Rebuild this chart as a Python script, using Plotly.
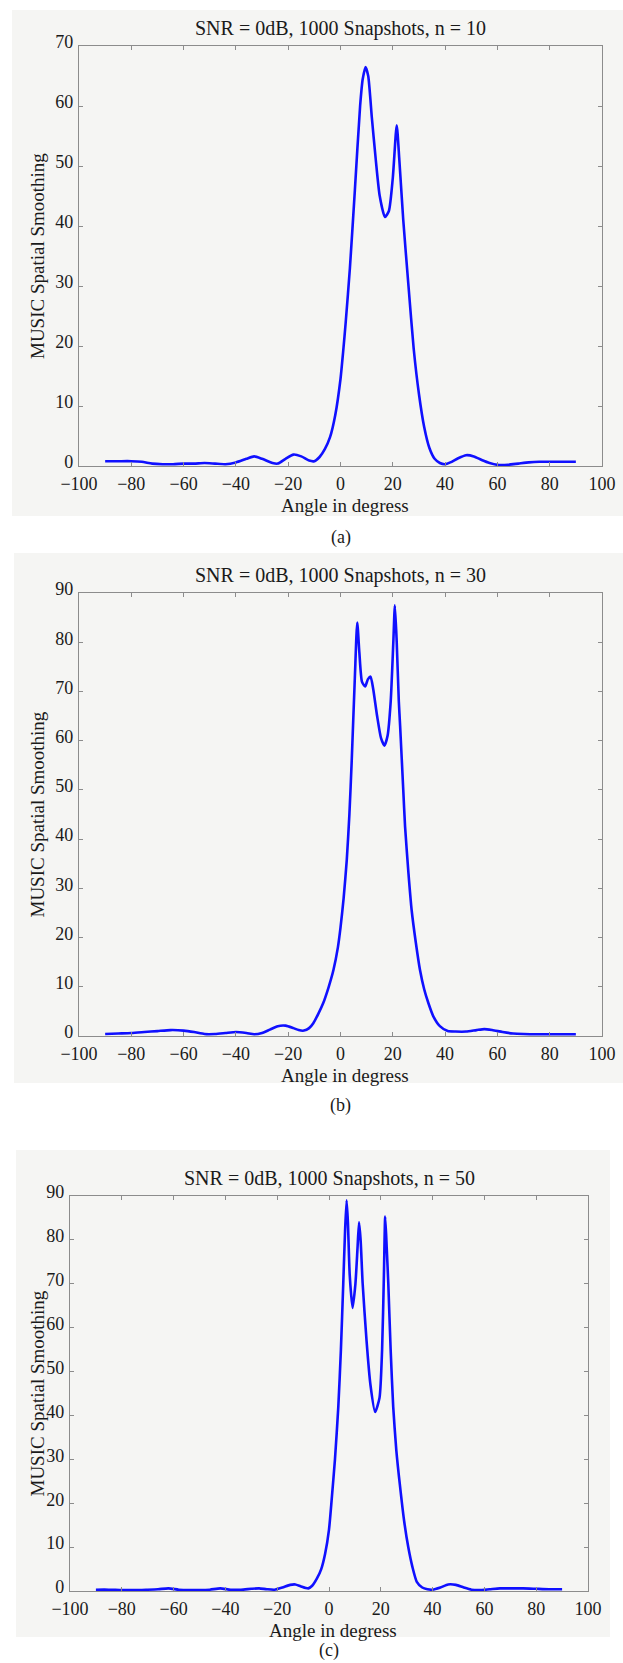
import plotly.graph_objects as go

# ---------------- data ----------------
titles = ["SNR = 0dB, 1000 Snapshots, n = 10",
          "SNR = 0dB, 1000 Snapshots, n = 30",
          "SNR = 0dB, 1000 Snapshots, n = 50"]
panel_labels = ["(a)", "(b)", "(c)"]
x_label = "Angle in degress"
y_label = "MUSIC Spatial Smoothing"
x_ticks = [-100, -80, -60, -40, -20, 0, 20, 40, 60, 80, 100]
y_ticks_a = [0, 10, 20, 30, 40, 50, 60, 70]
y_ticks_bc = [0, 10, 20, 30, 40, 50, 60, 70, 80, 90]

angle_a = [-90, -85, -80, -76, -72, -68, -64, -60, -56, -52, -48, -44, -40, -36, -33, -30,
           -26, -24, -21, -18, -15, -12, -10, -8, -6, -4, -2, 0, 1, 2, 3.6, 5.5, 7.5, 8.5,
           9.6, 10.6, 12, 13.5, 15, 17, 18.5, 20, 21.5, 22.5, 24, 26, 28, 30, 32, 34, 36,
           38, 40, 42, 45, 48, 51, 54, 57, 60, 64, 68, 72, 76, 80, 85, 90]
music_a = [0.8, 0.8, 0.8, 0.7, 0.4, 0.3, 0.3, 0.4, 0.4, 0.5, 0.4, 0.3, 0.6, 1.2, 1.6, 1.2,
           0.5, 0.4, 1.2, 1.9, 1.6, 0.9, 0.8, 1.5, 2.8, 4.8, 8.5, 14.5, 19, 24, 33, 46, 60, 64.5,
           66.5, 65, 58, 51, 45, 41.5, 42.5, 48, 56.8, 51, 41, 30, 19.5, 12, 6.5, 3, 1.2,
           0.5, 0.3, 0.6, 1.3, 1.8, 1.6, 1.0, 0.5, 0.2, 0.2, 0.4, 0.6, 0.7, 0.7, 0.7, 0.7]

angle_b = [-90, -85, -80, -75, -70, -65, -60, -56, -52, -48, -44, -40, -36, -33, -30, -27,
           -24, -21, -18, -16, -14, -12, -10.4, -8.5, -6.6, -4.5, -2.7, -1, 0, 1.2, 2.4, 3.4,
           4.3, 5.5, 6.4, 7.2, 8.2, 9.4, 10.5, 11.5, 12.5, 14, 15.5, 16.8, 18, 19.2, 20.2,
           20.8, 21.5, 22.3, 22.8, 24, 24.7, 26, 27.2, 28.8, 30.4, 32, 33.6, 35.5, 38, 41,
           44, 48, 52, 55, 58, 62, 66, 70, 75, 80, 85, 90]
music_b = [0.4, 0.5, 0.6, 0.8, 1.0, 1.2, 1.1, 0.8, 0.4, 0.4, 0.6, 0.8, 0.6, 0.35, 0.6, 1.3,
           2.0, 2.1, 1.6, 1.2, 1.1, 1.6, 2.6, 4.5, 6.7, 10, 13.4, 18, 22, 28, 35.8, 45,
           56, 73, 84, 78, 72, 71, 72.5, 73, 70.5, 65, 60.5, 59, 61, 68, 80,
           87.5, 80, 68, 63, 50, 42.5, 33, 25.6, 19, 13.4, 9.5, 6.7, 4, 2, 1.0,
           0.9, 0.9, 1.2, 1.4, 1.2, 0.8, 0.5, 0.4, 0.35, 0.35, 0.35, 0.35]

angle_c = [-90, -85, -80, -75, -70, -66, -62, -58, -54, -50, -46, -42, -38, -34, -30, -27,
           -24, -21, -18, -15, -13, -11, -9, -8, -6.5, -4.7, -3, -1.5, 0, 1, 2.3, 3.6, 4.6,
           5.5, 6.2, 6.8, 7.3, 8.0, 9.1, 10.2, 11, 11.6, 12.2, 13, 14.5, 16, 17.8, 19.5,
           20.5, 21.2, 21.7, 22.3, 22.9, 23.8, 24.8, 26, 27.4, 29, 30.6, 32.2, 33.9, 36,
           38, 40, 43, 46, 49, 52, 55, 58, 62, 66, 70, 75, 80, 85, 90]
music_c = [0.3, 0.3, 0.2, 0.2, 0.3, 0.4, 0.6, 0.3, 0.2, 0.2, 0.3, 0.6, 0.3, 0.3, 0.5, 0.6,
           0.4, 0.3, 0.8, 1.4, 1.5, 1.1, 0.7, 0.6, 1.2, 2.8, 5, 8.5, 14, 20.6, 30, 42, 55,
           70, 82, 89, 84, 72, 64.5, 70, 78, 84, 80, 70, 57, 47, 40.8, 44,
           55, 72, 85.3, 78, 70, 55, 41.9, 32, 24, 16, 10, 5.5, 2.1, 0.8,
           0.4, 0.3, 0.8, 1.5, 1.4, 0.8, 0.3, 0.2, 0.4, 0.6, 0.6, 0.6, 0.5, 0.4, 0.4]

# ---------------- layout geometry (pixels) ----------------
W, H = 623, 1663
FONT = "Liberation Serif, Times New Roman, serif"
# plot boxes: left, right, top, bottom
boxes = [(79, 602, 46, 466), (79, 602, 593, 1036), (70, 588, 1196, 1591)]
bgs = [(12, 623, 10, 516), (14, 623, 553, 1083), (16, 610, 1150, 1637)]
label_y = [537, 1105, 1650]
yranges = [[0, 70], [0, 90], [0, 90]]
yticks = [y_ticks_a, y_ticks_bc, y_ticks_bc]
series = [(angle_a, music_a), (angle_b, music_b), (angle_c, music_c)]


def px(x):
    return x / W


def py(y):
    return 1 - y / H


fig = go.Figure()
shapes = []
annotations = []
for i in range(3):
    l, r, t, b = boxes[i]
    xs, ys = series[i]
    sfx = "" if i == 0 else str(i + 1)
    fig.add_trace(go.Scatter(x=xs, y=ys, mode="lines", xaxis="x" + sfx, yaxis="y" + sfx,
                             line=dict(color="#1010ff", width=2.6, shape="spline", smoothing=0.6),
                             showlegend=False, hoverinfo="skip"))
    axcommon = dict(showgrid=False, zeroline=False, showline=True, mirror="ticks",
                    linecolor="#8c8c8c", linewidth=1.3, ticks="inside", ticklen=4,
                    tickcolor="#8c8c8c", tickwidth=1, automargin=False)
    fig.layout["xaxis" + sfx] = dict(domain=[px(l), px(r)], range=[-100, 100],
                                      tickmode="array", tickvals=x_ticks,
                                      anchor="y" + sfx, ticklabelstandoff=1,
                                      tickfont=dict(family=FONT, size=18, color="#1a1a1a"),
                                      **axcommon)
    fig.layout["yaxis" + sfx] = dict(domain=[py(b), py(t)], range=yranges[i],
                                      tickmode="array", tickvals=yticks[i],
                                      anchor="x" + sfx, ticklabelstandoff=1, ticklabelshift=-4,
                                      tickfont=dict(family=FONT, size=18, color="#1a1a1a"),
                                      **axcommon)
    bl, br, bt, bb = bgs[i]
    shapes.append(dict(type="rect", xref="paper", yref="paper", x0=px(bl), x1=px(br),
                       y0=py(bb), y1=py(bt), fillcolor="#f5f5f3", line=dict(width=0),
                       layer="below"))
    cx = (l + r) / 2
    annotations.append(dict(text=titles[i], x=px(cx), y=py(t - 18), xref="paper", yref="paper",
                            showarrow=False, xanchor="center", yanchor="middle",
                            font=dict(family=FONT, size=20, color="#1a1a1a")))
    annotations.append(dict(text=x_label, x=px(cx + 4), y=py(b + 39), xref="paper", yref="paper",
                            showarrow=False, xanchor="center", yanchor="middle",
                            font=dict(family=FONT, size=19, color="#1a1a1a")))
    annotations.append(dict(text=y_label, x=px(37), y=py((t + b) / 2), xref="paper", yref="paper",
                            showarrow=False, xanchor="center", yanchor="middle", textangle=-90,
                            font=dict(family=FONT, size=19, color="#1a1a1a")))
    annotations.append(dict(text=panel_labels[i], x=px(cx), y=py(label_y[i]), xref="paper",
                            yref="paper", showarrow=False, xanchor="center", yanchor="middle",
                            font=dict(family=FONT, size=18, color="#1a1a1a")))

fig.update_layout(width=W, height=H, autosize=False, margin=dict(l=0, r=0, t=0, b=0, pad=0),
                  paper_bgcolor="white", plot_bgcolor="#f7f7f5",
                  shapes=shapes, annotations=annotations)
fig.write_html("out.html", config={"responsive": False, "displayModeBar": False},
               post_script="document.body.style.margin='0';document.body.style.overflow='hidden';")
